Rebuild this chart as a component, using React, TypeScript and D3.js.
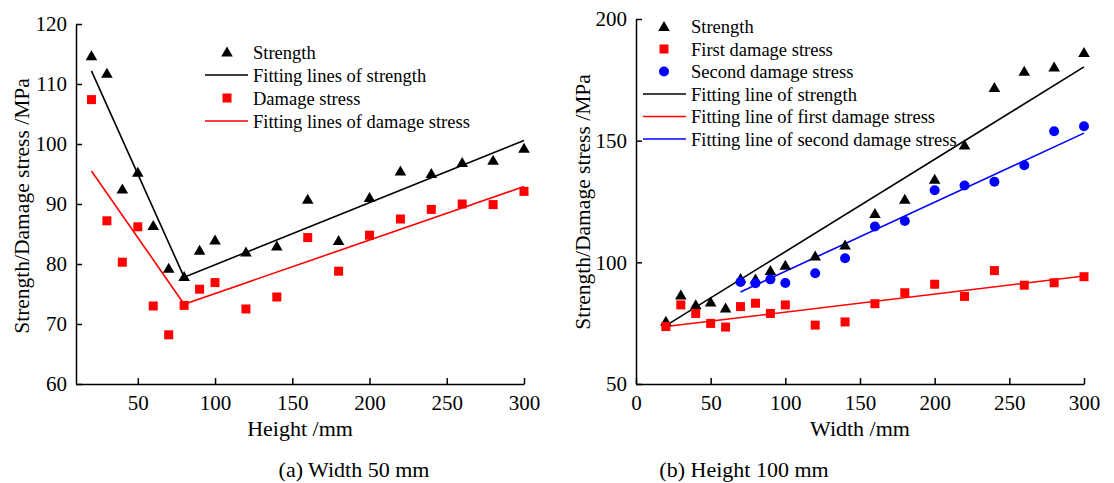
import React, { useEffect, useRef } from 'react';
import * as d3 from 'd3';

// (a) width 50 mm, x = height
const heights = [20, 30, 40, 50, 60, 70, 80, 90, 100, 120, 140, 160, 180, 200, 220, 240, 260, 280, 300];
const strengthA = [114.7, 111.8, 92.5, 95.3, 86.4, 79.3, 77.9, 82.3, 84.0, 82.0, 83.0, 90.8, 83.9, 91.1, 95.5, 95.1, 96.9, 97.3, 99.3];
const damageA = [107.4, 87.2, 80.3, 86.2, 73.0, 68.2, 73.1, 75.8, 76.9, 72.5, 74.5, 84.4, 78.8, 84.8, 87.5, 89.1, 90.0, 89.9, 92.1];
const fitStrengthA: [number, number][] = [[20, 112.2], [80, 77.8], [300, 100.6]];
const fitDamageA: [number, number][] = [[20, 95.5], [80, 73.3], [300, 92.9]];
const xTicksA = [50, 100, 150, 200, 250, 300];
const yTicksA = [60, 70, 80, 90, 100, 110, 120];

// (b) height 100 mm, x = width
const widths = [20, 30, 40, 50, 60, 70, 80, 90, 100, 120, 140, 160, 180, 200, 220, 240, 260, 280, 300];
const strengthB = [75.8, 86.6, 82.6, 83.7, 81.2, 93.4, 93.2, 96.6, 98.8, 102.6, 107.1, 120.1, 125.9, 134.1, 148.2, 171.9, 178.5, 180.3, 186.2];
const firstB = [73.6, 82.5, 79.0, 74.9, 73.4, 81.8, 83.2, 79.0, 82.5, 74.2, 75.5, 83.0, 87.5, 91.0, 86.0, 96.6, 90.6, 91.6, 94.1];
const secondWidths = [70, 80, 90, 100, 120, 140, 160, 180, 200, 220, 240, 260, 280, 300];
const secondB = [91.9, 91.4, 93.0, 91.5, 95.5, 101.7, 114.7, 117.0, 129.6, 131.6, 133.1, 139.9, 153.9, 155.9];
const fitStrengthB: [number, number][] = [[20, 74.0], [300, 180.3]];
const fitFirstB: [number, number][] = [[20, 73.6], [300, 94.4]];
const fitSecondB: [number, number][] = [[70, 87.8], [300, 153.1]];
const xTicksB = [0, 50, 100, 150, 200, 250, 300];
const yTicksB = [50, 100, 150, 200];

const FONT = '"Liberation Serif", "Times New Roman", serif';
const RED = '#ff0000';
const BLUE = '#0000ff';

export default function App() {
    const ref = useRef<SVGSVGElement>(null);

    useEffect(() => {
        const svg = d3.select(ref.current);
        svg.selectAll('*').remove();
        svg.attr('font-family', FONT);

        const tri = (g, x, y, color) => g.append('path')
            .attr('d', `M${x},${y - 5.5}L${x + 5.8},${y + 4.5}L${x - 5.8},${y + 4.5}Z`)
            .attr('fill', color);
        const sq = (g, x, y, color) => g.append('rect')
            .attr('x', x - 4.5).attr('y', y - 4.5).attr('width', 9).attr('height', 9)
            .attr('fill', color);
        const dot = (g, x, y, color) => g.append('circle')
            .attr('cx', x).attr('cy', y).attr('r', 5).attr('fill', color);

        const panel = (cfg) => {
            const { xDom, xRange, yDom, yRange, xTicks, yTicks } = cfg;
            const x = d3.scaleLinear().domain(xDom).range(xRange);
            const y = d3.scaleLinear().domain(yDom).range(yRange);
            const g = svg.append('g');

            const styleAxis = a => {
                a.selectAll('path, line').attr('stroke', '#000').attr('stroke-width', 1.5);
                a.selectAll('text').attr('font-size', 21).attr('font-family', FONT).attr('fill', '#000');
            };
            g.append('g')
                .attr('transform', `translate(0,${yRange[0]})`)
                .call(d3.axisBottom(x).tickValues(xTicks).tickSize(-6).tickSizeOuter(0).tickPadding(11))
                .call(styleAxis);
            g.append('g')
                .attr('transform', `translate(${xRange[0]},0)`)
                .call(d3.axisLeft(y).tickValues(yTicks).tickSize(-6).tickSizeOuter(0).tickPadding(9))
                .call(styleAxis);

            const line = d3.line<[number, number]>().x(d => x(d[0])).y(d => y(d[1]));
            cfg.fits.forEach(f => {
                g.append('path').attr('d', line(f.pts)).attr('fill', 'none')
                    .attr('stroke', f.color).attr('stroke-width', 1.6);
            });
            cfg.series.forEach(s => {
                s.xs.forEach((xv, i) => s.mark(g, x(xv), y(s.ys[i]), s.color));
            });

            // legend
            cfg.legend.forEach((item, i) => {
                const ly = cfg.legendY + i * cfg.legendStep;
                if (item.mark) item.mark(g, cfg.legendMarkX, ly, item.color);
                else g.append('line').attr('x1', cfg.legendLine[0]).attr('x2', cfg.legendLine[1])
                    .attr('y1', ly).attr('y2', ly).attr('stroke', item.color).attr('stroke-width', 1.6);
                g.append('text').attr('x', cfg.legendTextX).attr('y', ly + 6.5)
                    .attr('font-size', 18.5).text(item.label);
            });

            g.append('text').attr('x', cfg.xTitle[1]).attr('y', 436).attr('text-anchor', 'middle')
                .attr('font-size', 22).text(cfg.xTitle[0]);
            g.append('text').attr('transform', `translate(${cfg.yTitleX},${cfg.yTitleY}) rotate(-90)`)
                .attr('text-anchor', 'middle').attr('font-size', 21.5)
                .text('Strength/Damage stress /MPa');
            g.append('text').attr('x', cfg.caption[1]).attr('y', 477).attr('text-anchor', 'middle')
                .attr('font-size', 22).text(cfg.caption[0]);
        };

        panel({
            xDom: [10, 300], xRange: [76, 524], yDom: [60, 120], yRange: [384, 24],
            xTicks: xTicksA, yTicks: yTicksA,
            fits: [{ pts: fitStrengthA, color: '#000' }, { pts: fitDamageA, color: RED }],
            series: [
                { xs: heights, ys: strengthA, mark: tri, color: '#000' },
                { xs: heights, ys: damageA, mark: sq, color: RED },
            ],
            legend: [
                { label: 'Strength', mark: tri, color: '#000' },
                { label: 'Fitting lines of strength', color: '#000' },
                { label: 'Damage stress', mark: sq, color: RED },
                { label: 'Fitting lines of damage stress', color: RED },
            ],
            legendY: 52, legendStep: 23, legendMarkX: 227, legendLine: [205, 248], legendTextX: 253,
            xTitle: ['Height /mm', 300], yTitleX: 29, yTitleY: 206,
            caption: ['(a) Width 50 mm', 354],
        });

        panel({
            xDom: [0, 300], xRange: [636, 1084], yDom: [50, 200], yRange: [384, 19],
            xTicks: xTicksB, yTicks: yTicksB,
            fits: [
                { pts: fitStrengthB, color: '#000' },
                { pts: fitFirstB, color: RED },
                { pts: fitSecondB, color: BLUE },
            ],
            series: [
                { xs: widths, ys: strengthB, mark: tri, color: '#000' },
                { xs: widths, ys: firstB, mark: sq, color: RED },
                { xs: secondWidths, ys: secondB, mark: dot, color: BLUE },
            ],
            legend: [
                { label: 'Strength', mark: tri, color: '#000' },
                { label: 'First damage stress', mark: sq, color: RED },
                { label: 'Second damage stress', mark: dot, color: BLUE },
                { label: 'Fitting line of strength', color: '#000' },
                { label: 'Fitting line of first damage stress', color: RED },
                { label: 'Fitting line of second damage stress', color: BLUE },
            ],
            legendY: 26.5, legendStep: 22.5, legendMarkX: 664, legendLine: [643, 686], legendTextX: 691,
            xTitle: ['Width /mm', 860], yTitleX: 590, yTitleY: 202,
            caption: ['(b) Height 100 mm', 744],
        });
    }, []);

    return (
        <svg ref={ref} width={1114} height={483}
            style={{ position: 'absolute', left: 0, top: 0, background: '#fff' }} />
    );
}
